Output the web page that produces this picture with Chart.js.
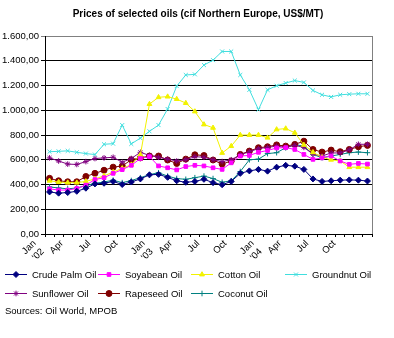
<!DOCTYPE html>
<html>
<head>
<meta charset="utf-8">
<script src="https://cdn.jsdelivr.net/npm/chart.js@4/dist/chart.umd.min.js"></script>
<style>
  html, body { margin: 0; padding: 0; background: #fff; }
  #wrap { position: relative; width: 394px; height: 338px; }
</style>
</head>
<body>
<div id="wrap"><canvas id="oilChart" width="394" height="338"></canvas></div>
<script>
// Months Jan '02 .. Dec '04
const months = ['Jan', 'Feb', 'Mar', 'Apr', 'May', 'Jun', 'Jul', 'Aug', 'Sep', 'Oct', 'Nov', 'Dec'];
const years = ["'02", "'03", "'04"];
const yTickLabels = ['0,00', '200,00', '400,00', '600,00', '800,00', '1.000,00', '1.200,00', '1.400,00', '1.600,00'];

// Prices, US$/MT
const crudePalm = [340, 330, 335, 345, 370, 405, 410, 425, 400, 420, 445, 478, 482, 458, 430, 418, 425, 442, 415, 398, 425, 490, 510, 522, 508, 540, 555, 548, 522, 445, 425, 430, 435, 437, 435, 428];
const soyabean = [365, 355, 355, 368, 395, 440, 455, 490, 520, 555, 610, 625, 550, 535, 518, 545, 555, 550, 535, 522, 575, 630, 635, 660, 675, 695, 698, 683, 643, 603, 615, 630, 590, 563, 570, 565];
const cotton = [430, 420, 415, 415, 425, 445, 470, 500, 530, 560, 640, 1050, 1105, 1110, 1090, 1058, 990, 885, 858, 655, 710, 800, 800, 800, 778, 845, 852, 818, 720, 660, 620, 600, 590, 540, 540, 540];
const groundnut = [665, 668, 672, 660, 650, 642, 725, 730, 880, 728, 775, 830, 880, 1010, 1195, 1285, 1290, 1365, 1405, 1475, 1475, 1285, 1165, 1005, 1165, 1198, 1220, 1240, 1225, 1160, 1125, 1108, 1125, 1130, 1133, 1133];
const sunflower = [615, 590, 565, 562, 585, 610, 615, 620, 580, 610, 660, 635, 620, 605, 590, 600, 625, 620, 600, 585, 600, 640, 665, 690, 700, 710, 700, 716, 700, 645, 630, 655, 655, 680, 725, 725];
const rapeseed = [450, 430, 422, 422, 465, 490, 515, 540, 550, 600, 615, 630, 630, 598, 570, 605, 640, 634, 598, 565, 590, 643, 670, 697, 705, 720, 710, 724, 750, 683, 662, 678, 665, 683, 705, 716];
const coconut = [380, 372, 365, 372, 390, 410, 420, 435, 415, 432, 455, 480, 495, 468, 448, 442, 455, 468, 448, 418, 430, 505, 600, 605, 650, 657, 697, 722, 710, 643, 616, 630, 643, 657, 662, 657];

const labels = [];
years.forEach(y => months.forEach(m => labels.push(m === 'Jan' ? [m, y] : m)));

function series(label, data, color, style, radius) {
    return {
        label: label,
        data: data,
        borderColor: color,
        backgroundColor: color,
        pointBackgroundColor: color,
        pointBorderColor: color,
        borderWidth: 1,
        pointStyle: style,
        pointRadius: radius,
        pointBorderWidth: 1,
        tension: 0
    };
}

const datasets = [
    series('Crude Palm Oil', crudePalm, '#000080', 'rectRot', 3),
    series('Soyabean Oil', soyabean, '#ff00ff', 'rect', 2.6),
    series('Cotton Oil', cotton, '#f2f200', 'triangle', 2.8),
    series('Groundnut Oil', groundnut, '#40dede', 'crossRot', 2.8),
    series('Sunflower Oil', sunflower, '#800080', 'star', 2.8),
    series('Rapeseed Oil', rapeseed, '#800000', 'circle', 3),
    series('Coconut Oil', coconut, '#008080', 'cross', 2.8)
];

const FONT = '"Liberation Sans", Arial, sans-serif';

// title, right border, legend and source line
const extras = {
    id: 'extras',
    afterDraw(chart) {
        const ctx = chart.ctx;
        const area = chart.chartArea;
        ctx.save();
        ctx.strokeStyle = '#808080';
        ctx.lineWidth = 1;
        ctx.beginPath();
        ctx.moveTo(area.right + 0.5, area.top);
        ctx.lineTo(area.right + 0.5, area.bottom);
        ctx.stroke();

        ctx.fillStyle = '#000';
        ctx.font = 'bold 10px ' + FONT;
        ctx.textAlign = 'center';
        ctx.textBaseline = 'middle';
        ctx.fillText('Prices of selected oils (cif Northern Europe, US$/MT)', 198, 14);

        const colX = [5, 98, 191, 285];
        const rowY = [274, 293];
        ctx.font = '9.5px ' + FONT;
        ctx.textAlign = 'left';
        chart.data.datasets.forEach((ds, i) => {
            const x = colX[i < 4 ? i : i - 4];
            const y = rowY[i < 4 ? 0 : 1];
            ctx.strokeStyle = ds.borderColor;
            ctx.fillStyle = ds.borderColor;
            ctx.lineWidth = 1;
            ctx.beginPath();
            ctx.moveTo(x, y + 0.5);
            ctx.lineTo(x + 22, y + 0.5);
            ctx.stroke();
            Chart.helpers.drawPoint(ctx, {
                pointStyle: ds.pointStyle, radius: ds.pointRadius, borderWidth: 1, rotation: 0
            }, x + 11, y + 0.5);
            ctx.fillStyle = '#000';
            ctx.fillText(ds.label, x + 27, y + 1);
        });

        ctx.fillText('Sources: Oil World, MPOB', 5, 311);
        ctx.restore();
    }
};

new Chart(document.getElementById('oilChart'), {
    type: 'line',
    data: { labels: labels, datasets: datasets },
    options: {
        responsive: false,
        animation: false,
        events: [],
        layout: { padding: { top: 36, left: 0, right: 22, bottom: 0 } },
        plugins: {
            legend: { display: false },
            title: { display: false },
            tooltip: { enabled: false }
        },
        scales: {
            x: {
                offset: true,
                afterFit: s => { s.height = 104; },
                border: { display: true, color: '#000', width: 1 },
                grid: { offset: true, drawOnChartArea: false, drawTicks: true, tickLength: 3, color: '#000' },
                ticks: {
                    autoSkip: false,
                    maxRotation: 45,
                    minRotation: 45,
                    padding: 1,
                    labelOffset: -15,
                    color: '#000',
                    font: { family: FONT, size: 9.5 },
                    callback: function (v, i) { return i % 3 === 0 ? labels[i] : ''; }
                }
            },
            y: {
                min: 0,
                max: 1600,
                afterFit: s => { s.width = 45; },
                border: { display: true, color: '#000', width: 1 },
                grid: {
                    color: c => (c.tick && c.tick.value === 1600) ? '#808080' : '#000',
                    tickLength: 4,
                    drawTicks: true
                },
                ticks: {
                    stepSize: 200,
                    padding: 2,
                    color: '#000',
                    font: { family: FONT, size: 9.5 },
                    callback: function (v, i) { return yTickLabels[i]; }
                }
            }
        }
    },
    plugins: [extras]
});
</script>
</body>
</html>
